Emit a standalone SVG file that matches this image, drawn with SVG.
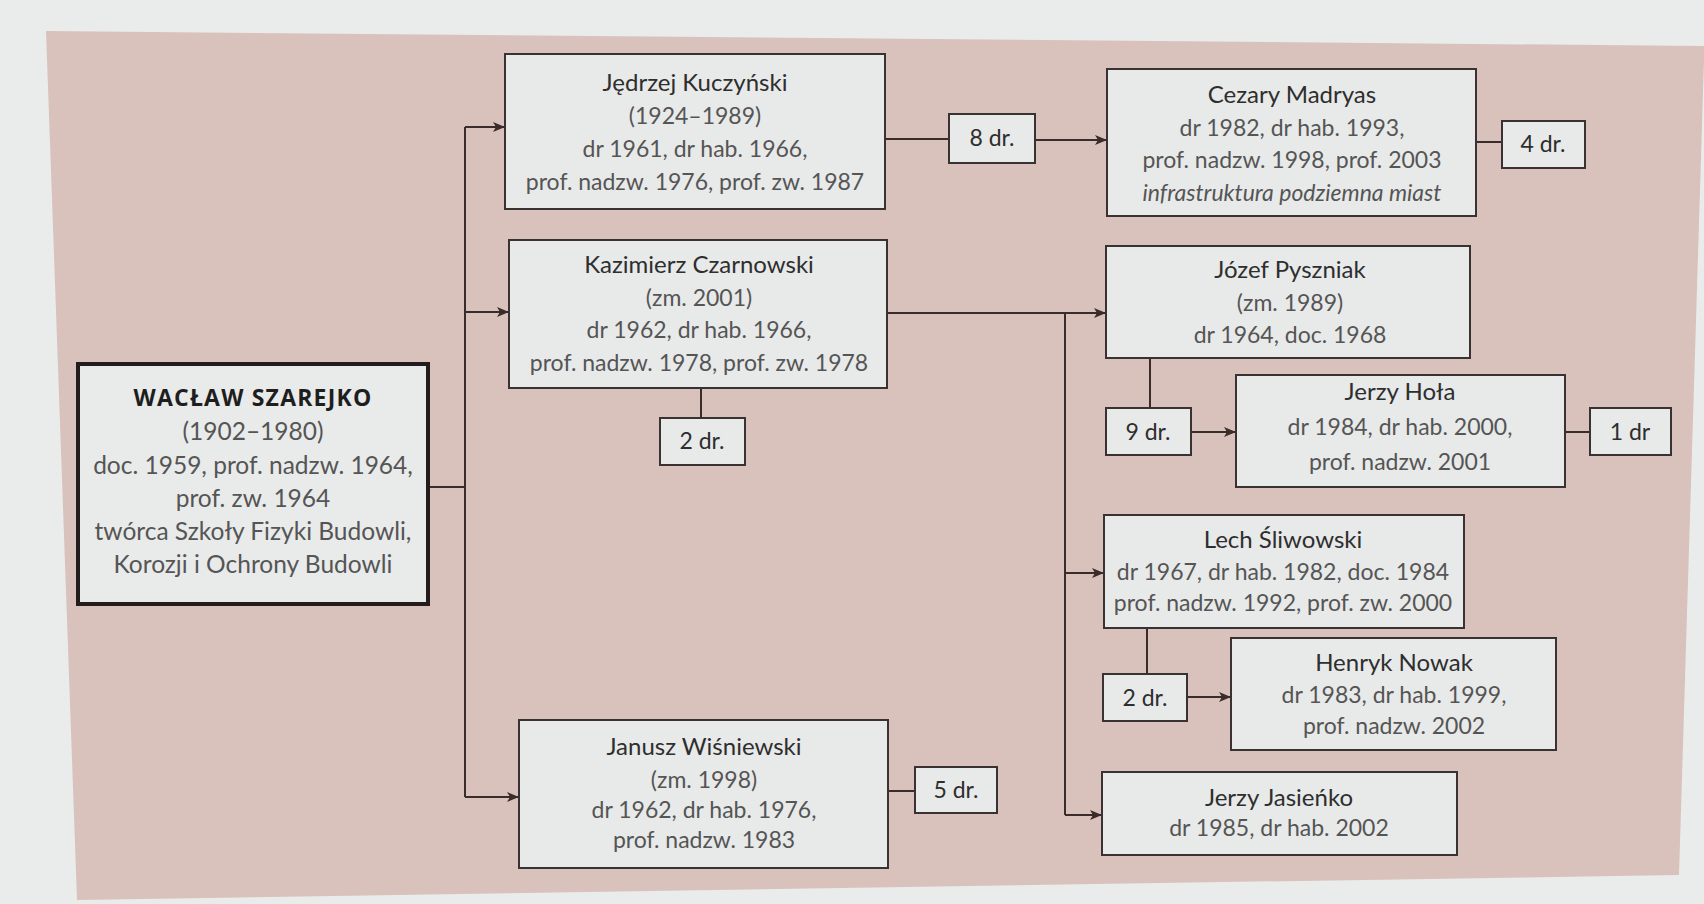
<svg xmlns="http://www.w3.org/2000/svg" width="1704" height="904" viewBox="0 0 1704 904">
<defs>
<style>
.box{fill:#e8e9e9;stroke:#3a3232;stroke-width:2}
.main{fill:#e9eaea;stroke:#231c1c;stroke-width:4}
.t{font-family:Lato,"Open Sans",sans-serif;font-size:23px;fill:#555;text-anchor:middle}
.s{font-size:24.5px}
.n{font-family:Lato,"Open Sans",sans-serif;font-size:24px;fill:#2e2e2e;text-anchor:middle}
.d{font-family:Lato,"Open Sans",sans-serif;font-size:23px;fill:#2e2e2e;text-anchor:middle}
.b{font-family:"Open Sans",Lato,sans-serif;font-size:23px;font-weight:bold;letter-spacing:1.2px;fill:#1e1e1e;text-anchor:middle}
.i{font-style:italic}
.c{fill:none;stroke:#3a2c2a;stroke-width:2}
</style>
<marker id="ah" markerWidth="12" markerHeight="10" refX="12" refY="5" orient="auto" markerUnits="userSpaceOnUse">
<path d="M0,0 L12,5 L0,10 L3,5 Z" fill="#3a2c2a"/>
</marker>
</defs>
<rect x="0" y="0" width="1704" height="904" fill="#eaecec"/>
<polygon points="46,31 1704,46 1704,60 1679,875 77,900" fill="#d9c2bc"/>

<g id="connectors">
<path class="c" d="M428,487 H465 M465,127 V797"/>
<path class="c" d="M465,127 H505" marker-end="url(#ah)"/>
<path class="c" d="M465,312 H509" marker-end="url(#ah)"/>
<path class="c" d="M465,797 H519" marker-end="url(#ah)"/>
<path class="c" d="M885,139 H949"/>
<path class="c" d="M1035,140 H1107" marker-end="url(#ah)"/>
<path class="c" d="M1476,142 H1502"/>
<path class="c" d="M701,388 V418"/>
<path class="c" d="M887,313 H1106" marker-end="url(#ah)"/>
<path class="c" d="M1065,313 V815"/>
<path class="c" d="M1150,358 V408"/>
<path class="c" d="M1191,432 H1236" marker-end="url(#ah)"/>
<path class="c" d="M1565,432 H1590"/>
<path class="c" d="M1065,573 H1104" marker-end="url(#ah)"/>
<path class="c" d="M1147,628 V674"/>
<path class="c" d="M1187,697 H1231" marker-end="url(#ah)"/>
<path class="c" d="M1065,815 H1102" marker-end="url(#ah)"/>
<path class="c" d="M888,791 H915"/>
</g>

<g id="szarejko">
<rect class="main" x="78" y="364" width="350" height="240"/>
<text class="b" x="253" y="406">WACŁAW SZAREJKO</text>
<text class="t s" x="253" y="440">(1902–1980)</text>
<text class="t s" x="253" y="474">doc. 1959, prof. nadzw. 1964,</text>
<text class="t s" x="253" y="507">prof. zw. 1964</text>
<text class="t s" x="253" y="540">twórca Szkoły Fizyki Budowli,</text>
<text class="t s" x="253" y="573">Korozji i Ochrony Budowli</text>
</g>

<g id="kuczynski">
<rect class="box" x="505" y="54" width="380" height="155"/>
<text class="n" x="695" y="91">Jędrzej Kuczyński</text>
<text class="t" x="695" y="124">(1924–1989)</text>
<text class="t" x="695" y="157">dr 1961, dr hab. 1966,</text>
<text class="t" x="695" y="190">prof. nadzw. 1976, prof. zw. 1987</text>
</g>

<g id="kuczynski-dr">
<rect class="box" x="949" y="114" width="86" height="49"/>
<text class="d" x="992" y="146">8 dr.</text>
</g>

<g id="madryas">
<rect class="box" x="1107" y="69" width="369" height="147"/>
<text class="n" x="1292" y="103">Cezary Madryas</text>
<text class="t" x="1292" y="136">dr 1982, dr hab. 1993,</text>
<text class="t" x="1292" y="168">prof. nadzw. 1998, prof. 2003</text>
<text class="t i" x="1292" y="201">infrastruktura podziemna miast</text>
</g>

<g id="madryas-dr">
<rect class="box" x="1502" y="121" width="83" height="47"/>
<text class="d" x="1543" y="152">4 dr.</text>
</g>

<g id="czarnowski">
<rect class="box" x="509" y="240" width="378" height="148"/>
<text class="n" x="699" y="273">Kazimierz Czarnowski</text>
<text class="t" x="699" y="306">(zm. 2001)</text>
<text class="t" x="699" y="338">dr 1962, dr hab. 1966,</text>
<text class="t" x="699" y="371">prof. nadzw. 1978, prof. zw. 1978</text>
</g>

<g id="czarnowski-dr">
<rect class="box" x="660" y="418" width="85" height="47"/>
<text class="d" x="702" y="449">2 dr.</text>
</g>

<g id="pyszniak">
<rect class="box" x="1106" y="246" width="364" height="112"/>
<text class="n" x="1290" y="278">Józef Pyszniak</text>
<text class="t" x="1290" y="311">(zm. 1989)</text>
<text class="t" x="1290" y="343">dr 1964, doc. 1968</text>
</g>

<g id="pyszniak-dr">
<rect class="box" x="1106" y="408" width="85" height="47"/>
<text class="d" x="1148" y="440">9 dr.</text>
</g>

<g id="hola">
<rect class="box" x="1236" y="375" width="329" height="112"/>
<text class="n" x="1400" y="400">Jerzy Hoła</text>
<text class="t" x="1400" y="435">dr 1984, dr hab. 2000,</text>
<text class="t" x="1400" y="470">prof. nadzw. 2001</text>
</g>

<g id="hola-dr">
<rect class="box" x="1590" y="408" width="81" height="47"/>
<text class="d" x="1630" y="440">1 dr</text>
</g>

<g id="sliwowski">
<rect class="box" x="1104" y="515" width="360" height="113"/>
<text class="n" x="1283" y="548">Lech Śliwowski</text>
<text class="t" x="1283" y="580">dr 1967, dr hab. 1982, doc. 1984</text>
<text class="t" x="1283" y="611">prof. nadzw. 1992, prof. zw. 2000</text>
</g>

<g id="sliwowski-dr">
<rect class="box" x="1103" y="674" width="84" height="47"/>
<text class="d" x="1145" y="706">2 dr.</text>
</g>

<g id="nowak">
<rect class="box" x="1231" y="638" width="325" height="112"/>
<text class="n" x="1394" y="671">Henryk Nowak</text>
<text class="t" x="1394" y="703">dr 1983, dr hab. 1999,</text>
<text class="t" x="1394" y="734">prof. nadzw. 2002</text>
</g>

<g id="jasienko">
<rect class="box" x="1102" y="772" width="355" height="83"/>
<text class="n" x="1279" y="806">Jerzy Jasieńko</text>
<text class="t" x="1279" y="836">dr 1985, dr hab. 2002</text>
</g>

<g id="wisniewski">
<rect class="box" x="519" y="720" width="369" height="148"/>
<text class="n" x="704" y="755">Janusz Wiśniewski</text>
<text class="t" x="704" y="788">(zm. 1998)</text>
<text class="t" x="704" y="818">dr 1962, dr hab. 1976,</text>
<text class="t" x="704" y="848">prof. nadzw. 1983</text>
</g>

<g id="wisniewski-dr">
<rect class="box" x="915" y="767" width="82" height="46"/>
<text class="d" x="956" y="798">5 dr.</text>
</g>
</svg>
